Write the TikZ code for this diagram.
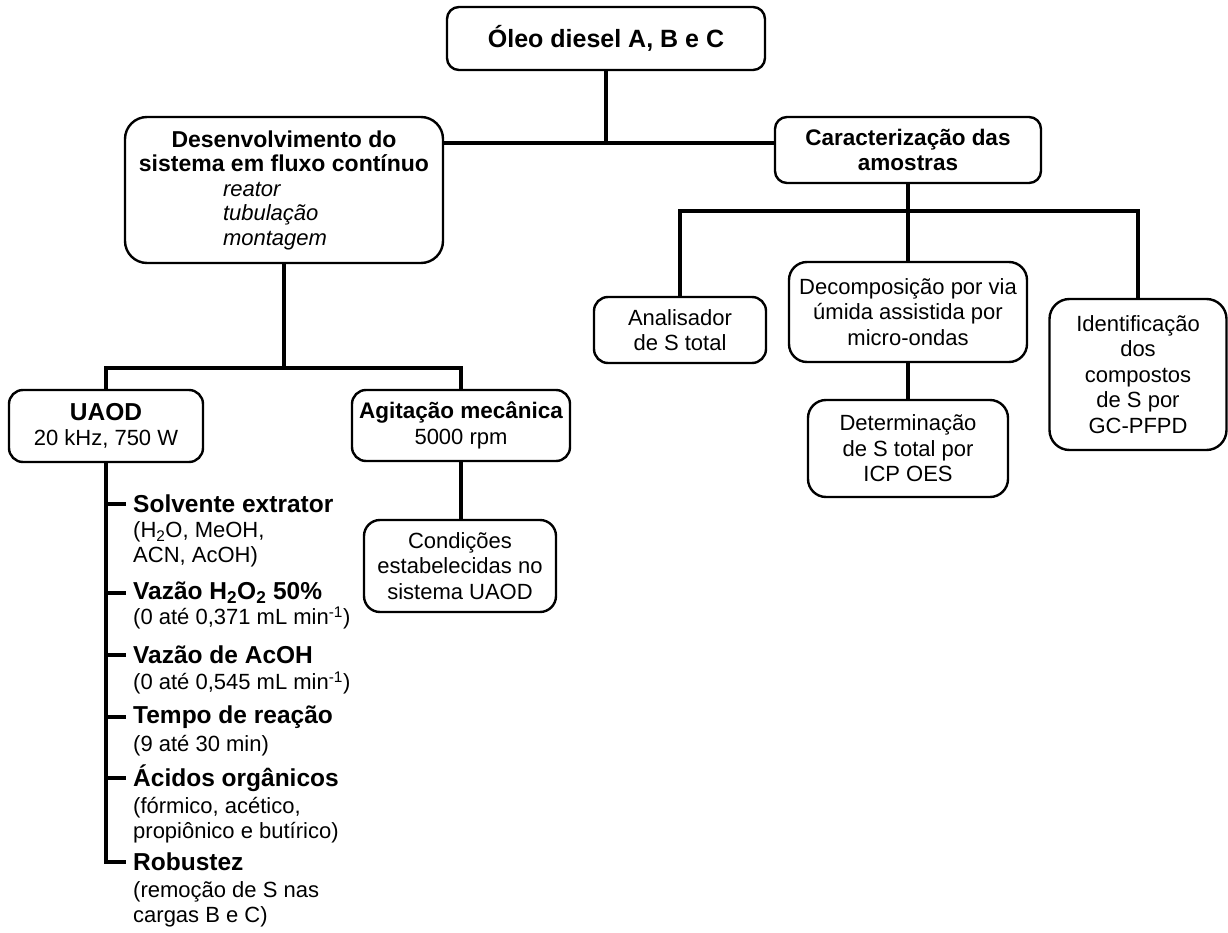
\documentclass[tikz,border=0pt]{standalone}
\usepackage{fontspec}
\setmainfont{Liberation Sans}
\newcommand\fsReg{\fontsize{22pt}{25.5pt}\selectfont}
\newcommand\bigbf[1]{{\fontsize{24.5pt}{28pt}\selectfont\bfseries #1}}
\newcommand\midbf[1]{{\fontsize{22.5pt}{26pt}\selectfont\bfseries #1}}
\newcommand\desbf[1]{{\fontsize{23pt}{26pt}\selectfont\bfseries #1}}
\begin{document}
\begin{tikzpicture}[x=1pt,y=-1pt,
  box/.style={draw,line width=2.4pt,rounded corners=14pt,align=center,inner sep=0pt,font=\fsReg},
  conn/.style={line width=3.2pt},
  hd/.style={anchor=west,inner xsep=7pt,inner ysep=0pt,font=\fontsize{24.5pt}{28pt}\selectfont\bfseries},
  ds/.style={anchor=west,inner sep=0pt,align=left,font=\fontsize{22pt}{25pt}\selectfont}]
\useasboundingbox (0,0) rectangle (1228,933);

% boxes
\node[box,minimum width=318pt,minimum height=63pt,rounded corners=12pt,font=\fontsize{25pt}{28pt}\selectfont\bfseries] (top) at (606,38.5) {Óleo diesel A, B e C};
\node[box,minimum width=318pt,minimum height=146pt,rounded corners=22pt,font=\fontsize{22pt}{24.5pt}\selectfont] (desenv) at (284,190)
  {\desbf{Desenvolvimento do}\\ \desbf{sistema em fluxo contínuo}\\ \makebox[122pt][l]{\textit{reator}}\\ \makebox[122pt][l]{\textit{tubulação}}\\ \makebox[122pt][l]{\textit{montagem}}};
\node[box,minimum width=266pt,minimum height=66pt,rounded corners=12pt] (caract) at (908,150) {\midbf{Caracterização das}\\ \midbf{amostras}};
\node[box,minimum width=172pt,minimum height=66pt] (analis) at (680,330) {Analisador\\de S total};
\node[box,minimum width=238pt,minimum height=100pt,rounded corners=18pt] (decomp) at (908,312) {Decomposição por via\\úmida assistida por\\micro-ondas};
\node[box,minimum width=200pt,minimum height=97pt,rounded corners=18pt] (determ) at (908,448.5) {Determinação\\de S total por\\ICP OES};
\node[box,minimum width=177pt,minimum height=151pt,rounded corners=20pt] (identif) at (1138,374.5) {Identificação\\dos\\compostos\\de S por\\GC-PFPD};
\node[box,minimum width=194pt,minimum height=72pt] (uaod) at (106,426) {\bigbf{UAOD}\\20 kHz, 750 W};
\node[box,minimum width=218pt,minimum height=71pt] (agit) at (461,425.5) {\midbf{Agitação mecânica}\\5000 rpm};
\node[box,minimum width=192pt,minimum height=92pt,rounded corners=16pt] (cond) at (460,566) {Condições\\estabelecidas no\\sistema UAOD};

% list
\node[hd] (h1) at (126,504) {Solvente extrator};
\node[ds] (d1) at (133,544.5) {(H\textsubscript{2}O, MeOH,\\ACN, AcOH)};
\node[hd] (h2) at (126,593) {Vazão H\textsubscript{2}O\textsubscript{2} 50\%};
\node[ds] (d2) at (133,618) {(0 até 0,371 mL min\textsuperscript{-1})};
\node[hd] (h3) at (126,655) {Vazão de AcOH};
\node[ds] (d3) at (133,683) {(0 até 0,545 mL min\textsuperscript{-1})};
\node[hd] (h4) at (126,717) {Tempo de reação};
\node[ds] (d4) at (133,746) {(9 até 30 min)};
\node[hd] (h5) at (126,778) {Ácidos orgânicos};
\node[ds] (d5) at (133,820) {(fórmico, acético,\\propiônico e butírico)};
\node[hd] (h6) at (126,862) {Robustez};
\node[ds] (d6) at (133,904.5) {(remoção de S nas\\cargas B e C)};

% connectors
\coordinate (j1) at (606,143);
\coordinate (j2) at (284,368);
\coordinate (j3) at (908,211);
\draw[conn] (top.south) -- (j1);
\draw[conn] (desenv.east |- j1) -- (caract.west |- j1);
\draw[conn] (desenv.south) -- (j2);
\draw[conn] (uaod.north) |- (j2) -| (agit.north);
\draw[conn] (agit.south) -- (agit.south |- cond.north);
\draw[conn] (caract.south) -- (decomp.north);
\draw[conn] (analis.north) |- (j3) -| (identif.north);
\draw[conn] (decomp.south) -- (determ.north);
\draw[conn] (uaod.south) |- (h6.west);
\draw[conn] (uaod.south |- h1.west) -- (h1.west);
\draw[conn] (uaod.south |- h2.west) -- (h2.west);
\draw[conn] (uaod.south |- h3.west) -- (h3.west);
\draw[conn] (uaod.south |- h4.west) -- (h4.west);
\draw[conn] (uaod.south |- h5.west) -- (h5.west);
\end{tikzpicture}
\end{document}
